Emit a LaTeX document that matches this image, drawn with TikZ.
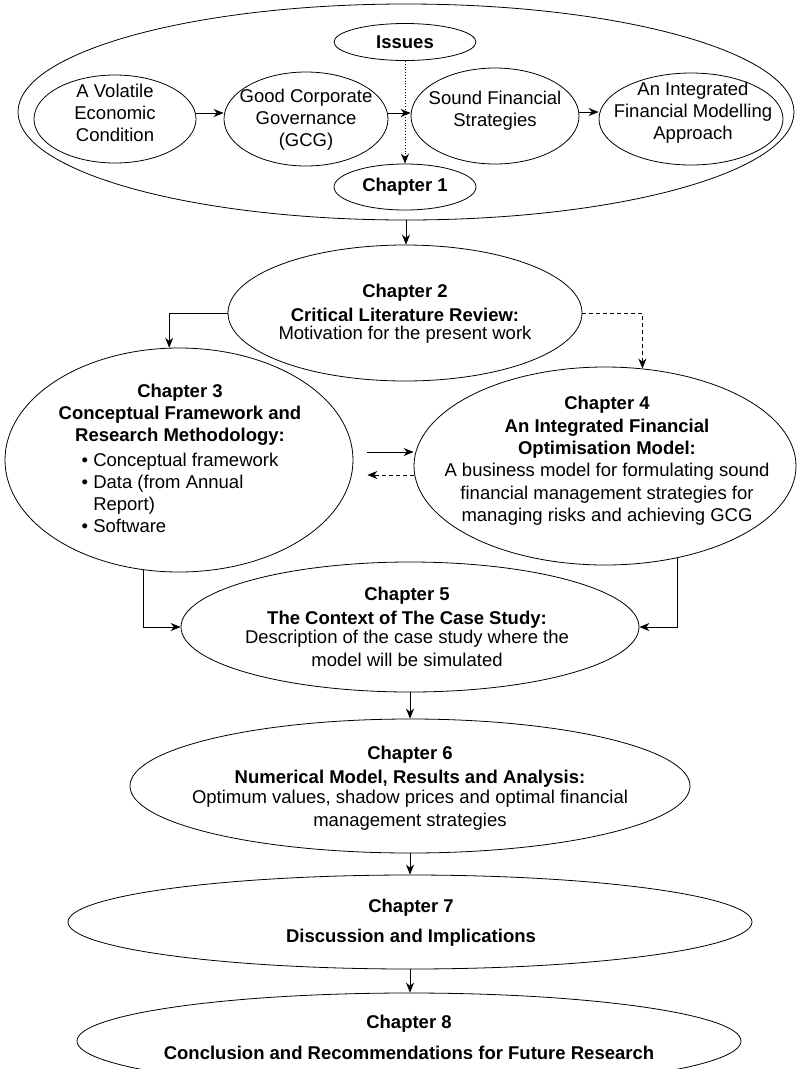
\documentclass[tikz,border=0pt]{standalone}
\usepackage{fontspec}
\setmainfont{Liberation Sans}
\usetikzlibrary{shapes.geometric,arrows.meta}
\begin{document}
\begin{tikzpicture}[x=1pt,y=-1pt,
  oval/.style 2 args={ellipse,draw,line width=0.8pt,inner sep=0pt,
    minimum width=#1pt,minimum height=#2pt},
  txt/.style={align=center,inner sep=0pt,font=\fontsize{18.5}{22}\selectfont},
  btxt/.style={inner sep=0pt,font=\fontsize{18.5}{22}\selectfont\bfseries},
  arr/.style={line width=0.8pt,-{Stealth[length=10pt,width=8pt]}},
  dsh/.style={dash pattern=on 4pt off 3pt}]
\useasboundingbox (0,0) rectangle (797,1069);
\clip (0,0) rectangle (797,1069);

% Chapter 1 group
\node[oval={776}{216}] (outer) at (406,112) {};
\node[oval={142}{37},btxt] (issues) at (405,42) {Issues};
\node[oval={162}{88}] (vol) at (115,119) {};
\node[txt] (volT) at (115,113) {A Volatile\\Economic\\Condition};
\node[oval={164}{94}] (gcg) at (306,119) {};
\node[txt] (gcgT) at (306,119.5) {Good Corporate\\Governance\\(GCG)};
\node[oval={168}{96}] (sound) at (495,116) {};
\node[txt] (soundT) at (495,111) {Sound Financial\\Strategies};
\node[oval={184}{92}] (integ) at (691,119) {};
\node[txt] (integT) at (693,113) {An Integrated\\Financial Modelling\\Approach};
\node[oval={142}{46},btxt] (ch1) at (405,187) {Chapter 1};

\draw[arr] ([yshift=6pt]vol.east) -- ([yshift=6pt]gcg.west);
\draw[arr] ([yshift=6pt]gcg.east) -- ([yshift=3pt]sound.west);
\draw[arr] ([yshift=4pt]sound.east) -- ([yshift=7pt]integ.west);
\draw[arr,dotted] (issues.south) -- (ch1.north);

% Chapter 2
\node[oval={354}{136}] (ch2) at (405,313) {};
\node[txt] (ch2T) at (405,314) {\textbf{Chapter 2}\\[2pt]\textbf{Critical Literature Review:}\\[-4pt]Motivation for the present work};
\draw[arr] (outer.south) -- (outer.south |- ch2.north);

% Chapters 3 and 4
\node[oval={348}{224}] (ch3) at (179,460) {};
\node[txt] (ch3T) at (180,462) {\textbf{Chapter 3}\\\textbf{Conceptual Framework and}\\\textbf{Research Methodology:}\\[3pt]{\begin{tabular}[t]{@{}l@{}}• Conceptual framework\\• Data (from Annual\\\phantom{• }Report)\\• Software\end{tabular}}};
\node[oval={382}{198}] (ch4) at (605,466) {};
\node[txt,font=\fontsize{18.5}{22.4}\selectfont] (ch4T) at (607,461) {\textbf{Chapter 4}\\\textbf{An Integrated Financial}\\\textbf{Optimisation Model:}\\A business model for formulating sound\\financial management strategies for\\managing risks and achieving GCG};

\draw[arr] (ch2.west) -| (ch3.95.6);
\draw[arr,dsh] (ch2.east) -| (ch4.69.1);
\draw[arr] ([shift={(14pt,8pt)}]ch3.east) -- ([yshift=14pt]ch4.west);
\draw[arr,dsh] ([yshift=-9pt]ch4.west) -- ([shift={(14pt,-15pt)}]ch3.east);

% Chapter 5
\node[oval={458}{130}] (ch5) at (410,627) {};
\node[txt] (ch5T) at (407,627) {\textbf{Chapter 5}\\[2pt]\textbf{The Context of The Case Study:}\\[-3pt]Description of the case study where the\\[1pt]model will be simulated};
\draw[arr] (ch3.252.8) |- (ch5.west);
\draw[arr] (ch4.308.6) |- (ch5.east);

% Chapter 6
\node[oval={560}{134}] (ch6) at (410,786) {};
\node[txt] (ch6T) at (410,788) {\textbf{Chapter 6}\\[2pt]\textbf{Numerical Model, Results and Analysis:}\\[-2pt]Optimum values, shadow prices and optimal financial\\[1pt]management strategies};
\draw[arr] (ch5.south) -- (ch5.south |- ch6.north);

% Chapter 7
\node[oval={684}{94}] (ch7) at (410,922) {};
\node[txt] (ch7T) at (411,923) {\textbf{Chapter 7}\\[8pt]\textbf{Discussion and Implications}};
\draw[arr] (ch6.south) -- (ch6.south |- ch7.north);

% Chapter 8
\node[oval={664}{96}] (ch8) at (409,1041) {};
\node[txt] (ch8T) at (409,1037) {\textbf{Chapter 8}\\[9pt]\textbf{Conclusion and Recommendations for Future Research}};
\draw[arr] (ch7.south) -- (ch7.south |- ch8.north);
\end{tikzpicture}
\end{document}
